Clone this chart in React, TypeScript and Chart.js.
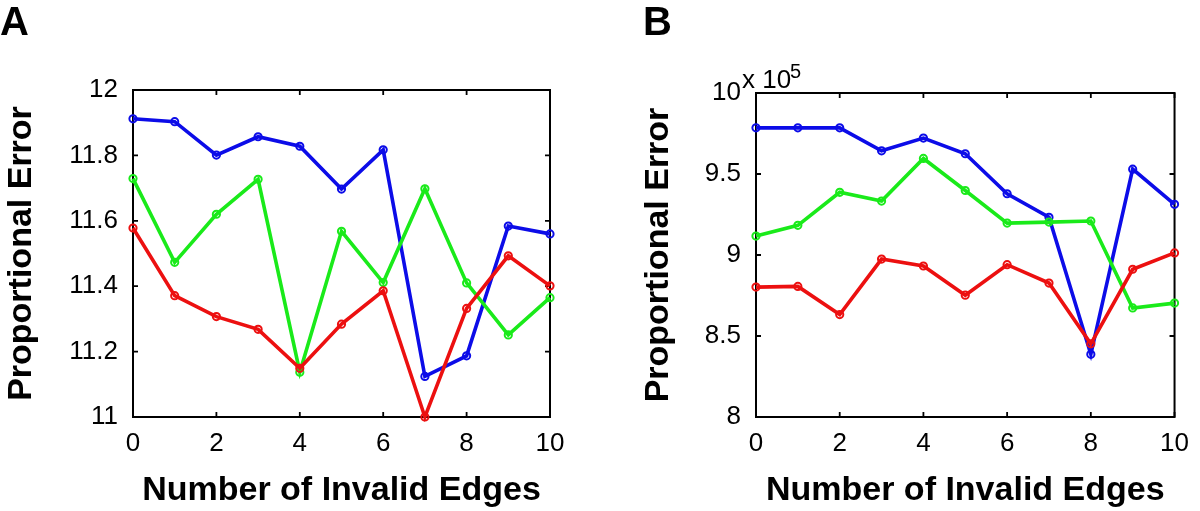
import React, { useEffect, useRef } from "react";
import { Chart, registerables } from "chart.js";
Chart.register(...registerables);

// ---- data ----
const xValues = [0, 1, 2, 3, 4, 5, 6, 7, 8, 9, 10];
const xTickValues = [0, 2, 4, 6, 8, 10];
const aTickValues = [11, 11.2, 11.4, 11.6, 11.8, 12];
const bTickValues = [8, 8.5, 9, 9.5, 10];

const aBlue = [11.912, 11.903, 11.801, 11.857, 11.828, 11.697, 11.817, 11.124, 11.187, 11.584, 11.56];
const aGreen = [11.729, 11.473, 11.62, 11.727, 11.137, 11.568, 11.411, 11.698, 11.41, 11.251, 11.365];
const aRed = [11.578, 11.371, 11.307, 11.268, 11.149, 11.284, 11.386, 11.0, 11.332, 11.493, 11.401];

// panel B values in units of 10^5
const bBlue = [9.785, 9.785, 9.785, 9.643, 9.722, 9.625, 9.378, 9.233, 8.387, 9.53, 9.313];
const bGreen = [9.117, 9.183, 9.387, 9.333, 9.596, 9.398, 9.197, 9.203, 9.21, 8.673, 8.703];
const bRed = [8.802, 8.806, 8.632, 8.975, 8.932, 8.752, 8.94, 8.827, 8.452, 8.912, 9.013];

const BLUE = "#0c0ce8";
const GREEN = "#1aea1a";
const RED = "#ec1010";
const FONT = "'Liberation Sans', Arial, Helvetica, sans-serif";

const boxPlugin = {
  id: "matlabBox",
  beforeDatasetsDraw(chart: any) {
    const { ctx, chartArea, scales } = chart;
    const { left, right, top, bottom } = chartArea;
    ctx.save();
    ctx.strokeStyle = "#000";
    ctx.lineWidth = 2;
    ctx.strokeRect(left, top, right - left, bottom - top);
    ctx.lineWidth = 1.8;
    ctx.beginPath();
    const len = 5;
    for (const t of scales.x.ticks) {
      const px = scales.x.getPixelForValue(t.value);
      ctx.moveTo(px, bottom);
      ctx.lineTo(px, bottom - len);
      ctx.moveTo(px, top);
      ctx.lineTo(px, top + len);
    }
    for (const t of scales.y.ticks) {
      const py = scales.y.getPixelForValue(t.value);
      ctx.moveTo(left, py);
      ctx.lineTo(left + len, py);
      ctx.moveTo(right, py);
      ctx.lineTo(right - len, py);
    }
    ctx.stroke();
    ctx.restore();
  },
};

function ds(values: number[], color: string, order: number) {
  return {
    data: xValues.map((x, i) => ({ x, y: values[i] })),
    borderColor: color,
    backgroundColor: "rgba(0,0,0,0)",
    pointBackgroundColor: "rgba(0,0,0,0)",
    pointBorderColor: color,
    borderWidth: 3.6,
    pointRadius: 3.6,
    pointBorderWidth: 2,
    pointStyle: "circle",
    tension: 0,
    clip: false,
    order,
  };
}

function makeConfig(opts: {
  yTicks: number[];
  yMin: number;
  yMax: number;
  blue: number[];
  green: number[];
  red: number[];
  padTop: number;
  padRight: number;
  yWidth: number;
  yTitlePad: number;
}): any {
  return {
    type: "line",
    data: {
      datasets: [ds(opts.blue, BLUE, 2), ds(opts.green, GREEN, 1), ds(opts.red, RED, 0)],
    },
    plugins: [boxPlugin],
    options: {
      responsive: false,
      animation: false,
      devicePixelRatio: 1,
      layout: { padding: { left: 0, right: opts.padRight, top: opts.padTop, bottom: 0 } },
      plugins: { legend: { display: false }, tooltip: { enabled: false } },
      scales: {
        x: {
          type: "linear",
          min: 0,
          max: 10,
          grid: { display: false, drawTicks: false },
          border: { display: false },
          afterBuildTicks: (s: any) => {
            s.ticks = xTickValues.map((v) => ({ value: v }));
          },
          afterFit: (s: any) => {
            s.height = 94;
          },
          ticks: {
            color: "#000",
            font: { family: FONT, size: 26 },
            padding: 11,
            maxRotation: 0,
            autoSkip: false,
            callback: (v: number) => String(v),
          },
          title: {
            display: true,
            text: "Number of Invalid Edges",
            color: "#000",
            font: { family: FONT, size: 34, weight: "bold" },
            padding: { top: 0, bottom: 0 },
          },
        },
        y: {
          type: "linear",
          min: opts.yMin,
          max: opts.yMax,
          grid: { display: false, drawTicks: false },
          border: { display: false },
          afterBuildTicks: (s: any) => {
            s.ticks = opts.yTicks.map((v) => ({ value: v }));
          },
          afterFit: (s: any) => {
            s.width = opts.yWidth;
          },
          ticks: {
            color: "#000",
            font: { family: FONT, size: 26 },
            padding: 15,
            autoSkip: false,
            callback: (v: number) => String(+Number(v).toFixed(1)),
          },
          title: {
            display: true,
            text: "Proportional Error",
            color: "#000",
            font: { family: FONT, size: 34, weight: "bold" },
            padding: { top: opts.yTitlePad, bottom: 0 },
          },
        },
      },
    },
  };
}

function Panel({ left, config }: { left: number; config: any }) {
  const ref = useRef<HTMLCanvasElement>(null);
  useEffect(() => {
    const chart = new Chart(ref.current as HTMLCanvasElement, config);
    return () => chart.destroy();
  }, []);
  return (
    <canvas
      ref={ref}
      width={600}
      height={511}
      style={{ position: "absolute", left, top: 0, width: 600, height: 511 }}
    />
  );
}

const configA = makeConfig({
  yTicks: aTickValues,
  yMin: 11,
  yMax: 12,
  blue: aBlue,
  green: aGreen,
  red: aRed,
  padTop: 90,
  padRight: 50,
  yWidth: 133,
  yTitlePad: 1,
});

const configB = makeConfig({
  yTicks: bTickValues,
  yMin: 8,
  yMax: 10,
  blue: bBlue,
  green: bGreen,
  red: bRed,
  padTop: 93,
  padRight: 19,
  yWidth: 156,
  yTitlePad: 38,
});

export default function App() {
  const labelStyle: React.CSSProperties = {
    position: "absolute",
    fontFamily: FONT,
    fontWeight: "bold",
    fontSize: 40,
    lineHeight: "40px",
    color: "#000",
    margin: 0,
    whiteSpace: "nowrap",
  };
  const expStyle: React.CSSProperties = {
    position: "absolute",
    fontFamily: FONT,
    color: "#000",
    whiteSpace: "nowrap",
  };
  return (
    <div
      style={{
        position: "absolute",
        left: 0,
        top: 0,
        width: 1200,
        height: 511,
        background: "#fff",
        overflow: "hidden",
      }}
    >
      <Panel left={0} config={configA} />
      <Panel left={600} config={configB} />
      <div style={{ ...labelStyle, left: 0, top: 1 }}>A</div>
      <div style={{ ...labelStyle, left: 643, top: 1 }}>B</div>
      <div style={{ ...expStyle, left: 742, top: 66, fontSize: 26, lineHeight: "26px" }}>x 10</div>
      <div style={{ ...expStyle, left: 790, top: 61, fontSize: 20, lineHeight: "20px" }}>5</div>
    </div>
  );
}
